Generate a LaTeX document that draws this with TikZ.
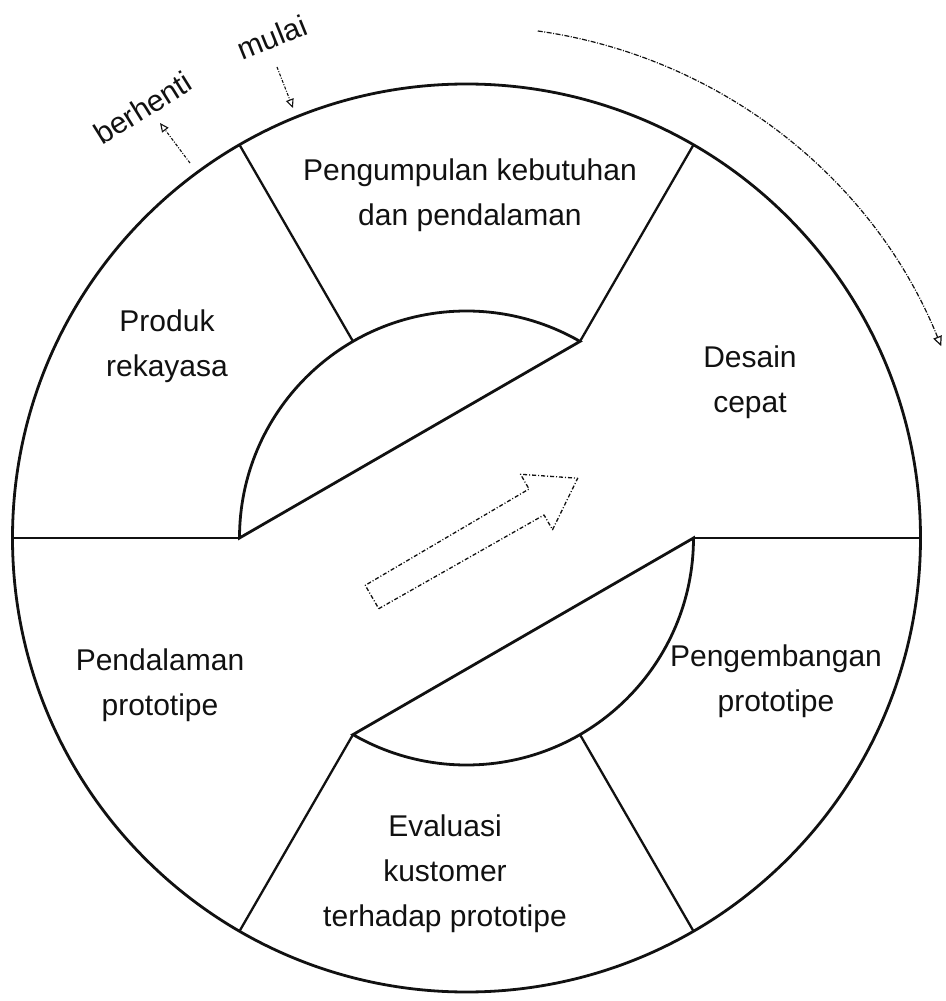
\documentclass[tikz,border=0pt]{standalone}
\usepackage{fontspec}
\setmainfont{Liberation Sans}
\usetikzlibrary{arrows.meta,calc,positioning}
\definecolor{cdark}{HTML}{111111}

\begin{document}
\begin{tikzpicture}[x=1pt,y=1pt,
  ring/.style={draw=cdark, line width=2.8pt},
  spoke/.style={draw=cdark, line width=2.3pt},
  lbl/.style={font=\fontsize{30}{45}\selectfont, text=cdark, align=center, inner sep=0},
  hint/.style={-{Triangle[open,length=9pt,width=8pt]}, draw=cdark, line width=1.1pt, dash pattern=on 3pt off 1.5pt on 1pt off 1.5pt},
  loop/.style={-{Triangle[open,length=10pt,width=9pt]}, draw=cdark, line width=1.2pt, dash pattern=on 5pt off 1.5pt on 1pt off 1.5pt},
  flow/.style={draw=cdark, line width=1.3pt, dash pattern=on 4pt off 2pt on 1pt off 2pt, line join=round}]

\useasboundingbox (-466.5,-463) rectangle (478.5,538);

\draw[ring] (0,0) circle[radius=454pt];
\draw[ring] (180:227pt) arc[start angle=180, end angle=60, radius=227pt] -- cycle;
\draw[ring] (0:227pt) arc[start angle=0, end angle=-120, radius=227pt] -- cycle;
\foreach \a in {0,60,...,300}
  \draw[spoke] (\a:227pt) -- (\a:454pt);

\node[lbl] (gather) at (3.5,343) {Pengumpulan kebutuhan\\dan pendalaman};
\node[lbl] (design) at (283.5,156) {Desain\\cepat};
\node[lbl] (build) at (309.5,-143.5) {Pengembangan\\prototipe};
\node[lbl] (review) at (-21.5,-336) {Evaluasi\\kustomer\\terhadap prototipe};
\node[lbl] (refine) at (-306.5,-147) {Pendalaman\\prototipe};
\node[lbl] (product) at (-299.5,191.5) {Produk\\rekayasa};

\node[lbl, rotate=22] (start) at (-194.5,501) {mulai};
\node[lbl, rotate=32] (stop) at (-323.5,430) {berhenti};
\coordinate (startfrom) at (-189.5,471);
\coordinate (startto) at (-173.5,430);
\coordinate (stopfrom) at (-276.5,375);
\coordinate (stopto) at (-306.5,415);
\draw[hint] (startfrom) -- (startto);
\draw[hint] (stopfrom) -- (stopto);

\draw[loop] (82:512pt) arc[start angle=82, end angle=22, radius=512pt];

\draw[flow, shift={(-94.5,-59)}, rotate=30] (0,-13.5) -- (190,-15) -- (190,-32) -- (237.5,0) -- (190,32) -- (190,15) -- (0,13.5) -- cycle;
\end{tikzpicture}
\end{document}
